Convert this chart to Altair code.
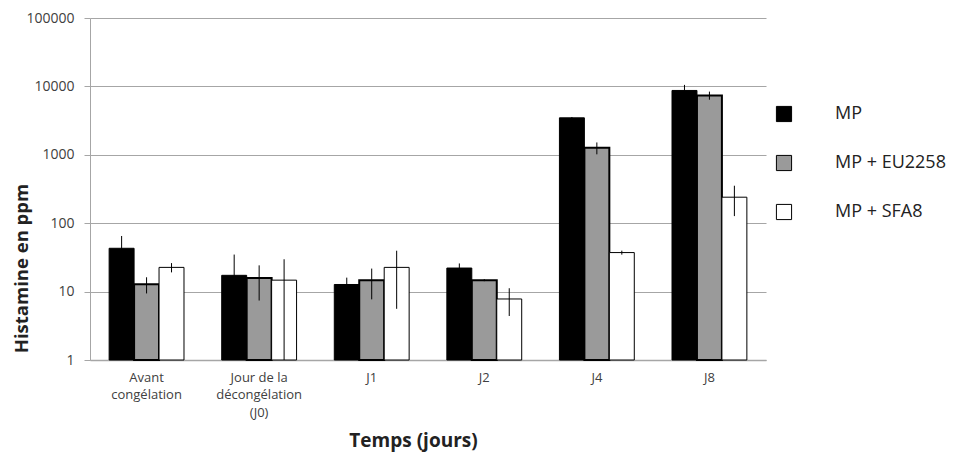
import altair as alt
import pandas as pd

categories = ["Avant\ncongélation", "Jour de la\ndécongélation\n(J0)", "J1", "J2", "J4", "J8"]
series = ["MP", "MP + EU2258", "MP + SFA8"]
mp = [43, 17.3, 12.7, 22.1, 3470, 8720]
mp_err = [22, 17.5, 3.3, 3.7, 100, 1800]
eu = [12.8, 15.8, 14.7, 14.7, 1266, 7390]
eu_err = [3.4, 8.4, 7.0, 0.5, 250, 1000]
sfa = [22.6, 14.7, 22.6, 7.8, 37.2, 240]
sfa_err = [3.5, 15.0, 17.0, 3.4, 2.5, 113]
y_ticks = [1, 10, 100, 1000, 10000, 100000]
fills = ["#000000", "#9a9a9a", "#ffffff"]

rows = []
for s, vals, errs in zip(series, [mp, eu, sfa], [mp_err, eu_err, sfa_err]):
    for c, v, e in zip(categories, vals, errs):
        rows.append({"cat": c, "serie": s, "val": v,
                     "lo": max(v - e, 1), "hi": v + e})
df = pd.DataFrame(rows)

FONT = "Open Sans"

x = alt.X("cat:N", sort=categories, title="Temps (jours)",
          scale=alt.Scale(paddingInner=0.335, paddingOuter=0.17),
          axis=alt.Axis(labelAngle=0, labelExpr="split(datum.label, '\\n')",
                        ticks=False, labelPadding=11, labelFontSize=13,
                        labelColor="#404040", labelLineHeight=17.5,
                        domainColor="#a6a6a6", domainWidth=1.5,
                        titleFontSize=19, titleFontWeight="bold", titleColor="#222",
                        titleX=323, titleY=80, titleBaseline="middle"))

xo = alt.XOffset("serie:N", sort=series, scale=alt.Scale(paddingInner=0, paddingOuter=0))

yscale = alt.Scale(type="log", domain=[1, 100000])

bars = alt.Chart(df).mark_bar(stroke="black").encode(
    x=x,
    xOffset=xo,
    y=alt.Y("val:Q", scale=yscale, title="Histamine en ppm",
            axis=alt.Axis(values=y_ticks, format="d", tickSize=6, tickColor="#a6a6a6",
                          labelPadding=10, labelFontSize=14, labelColor="#404040",
                          domainColor="#a6a6a6", gridColor="#a6a6a6", gridWidth=1.2,
                          titleFontSize=18.5, titleFontWeight="bold", titleColor="#222",
                          titleX=-69, titleY=250, titleAngle=-90, titleBaseline="middle")),
    y2=alt.datum(1),
    strokeWidth=alt.condition("datum.serie == 'MP + EU2258'", alt.value(2), alt.value(1)),
    fill=alt.Fill("serie:N", sort=series, scale=alt.Scale(domain=series, range=fills),
                  legend=alt.Legend(title=None, orient="none", legendX=685, legendY=87,
                                    symbolType="square", symbolSize=230,
                                    symbolStrokeColor="black", symbolStrokeWidth=1,
                                    labelFontSize=18, labelColor="#222",
                                    labelOffset=42, rowPadding=29)),
)

errs = alt.Chart(df).mark_rule(color="black", strokeWidth=1).encode(
    x=alt.X("cat:N", sort=categories),
    xOffset=xo,
    y=alt.Y("lo:Q", scale=yscale),
    y2="hi:Q",
)

chart = alt.layer(bars, errs).properties(
    width=676, height=342,
    autosize=alt.AutoSizeParams(type="none"),
    padding={"left": 82, "top": 10, "right": 188, "bottom": 94},
).configure(font=FONT).configure_view(stroke=None)

chart.save("out.html", embed_options={"renderer": "svg", "actions": False})
